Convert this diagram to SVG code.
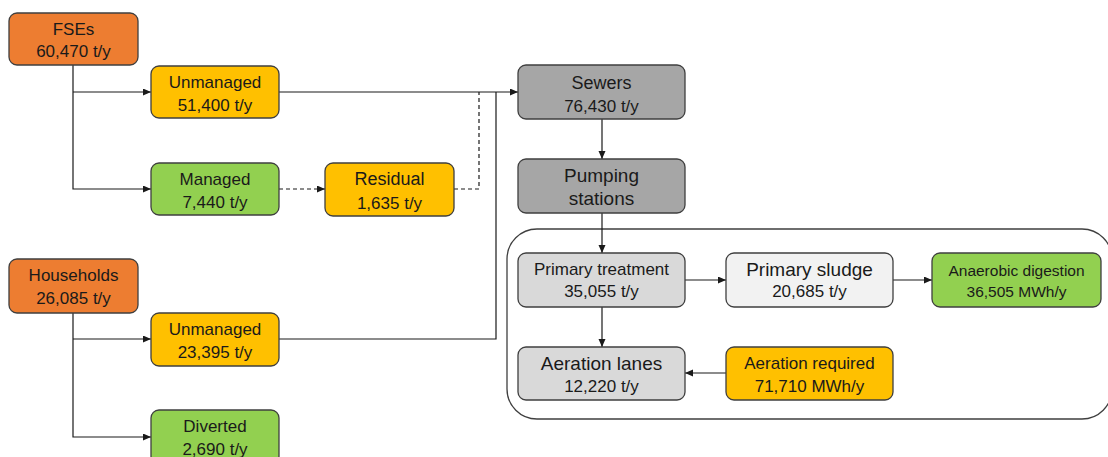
<svg xmlns="http://www.w3.org/2000/svg" width="1108" height="457" viewBox="0 0 1108 457">
  <style>
    .box { stroke: #3f3f3f; stroke-width: 1.3; }
    .orange { fill: #ED7D31; }
    .yellow { fill: #FFC000; }
    .green { fill: #92D050; }
    .gray { fill: #A6A6A6; }
    .light { fill: #D9D9D9; }
    .pale { fill: #F2F2F2; }
    text { font-family: "Liberation Sans", Arial, sans-serif; font-size: 17px; fill: #1a1a1a; text-anchor: middle; }
    .big { font-size: 19px; }
    .mid { font-size: 18px; }
    .small { font-size: 15.5px; }
    .link { fill: none; stroke: #1a1a1a; stroke-width: 1.2; }
    .dash { stroke-dasharray: 4 3; }
  </style>
  <defs>
    <marker id="arrow" markerUnits="userSpaceOnUse" markerWidth="8" markerHeight="8" refX="8" refY="3.5" orient="auto">
      <path d="M0,0 L8,3.5 L0,7 z" fill="#1a1a1a"/>
    </marker>
  </defs>

  <!-- treatment plant enclosure, running off the right edge -->
  <rect id="treatment-plant" x="507" y="229" width="605" height="190" rx="30" fill="none" stroke="#3f3f3f" stroke-width="1.3"/>

  <g id="connectors">
    <path class="link" d="M73 65 V189 H151" marker-end="url(#arrow)"/>
    <path class="link" d="M73 92 H151" marker-end="url(#arrow)"/>
    <path class="link dash" d="M279 189 H325" marker-end="url(#arrow)"/>
    <path class="link dash" d="M454 189 H479 V92"/>
    <path class="link" d="M279 92 H518" marker-end="url(#arrow)"/>
    <path class="link" d="M73 313 V437 H151" marker-end="url(#arrow)"/>
    <path class="link" d="M73 339 H151" marker-end="url(#arrow)"/>
    <path class="link" d="M279 339 H496 V92"/>
    <path class="link" d="M602 119 V159" marker-end="url(#arrow)"/>
    <path class="link" d="M602 213 V253" marker-end="url(#arrow)"/>
    <path class="link" d="M685 280 H726" marker-end="url(#arrow)"/>
    <path class="link" d="M893 280 H932" marker-end="url(#arrow)"/>
    <path class="link" d="M602 307 V347" marker-end="url(#arrow)"/>
    <path class="link" d="M726 373 H685" marker-end="url(#arrow)"/>
  </g>

  <g id="fses">
    <rect class="box orange" x="9" y="13" width="129" height="52" rx="8"/>
    <text x="73.5" y="34.5">FSEs</text>
    <text x="73.5" y="57">60,470 t/y</text>
  </g>
  <g id="fse-unmanaged">
    <rect class="box yellow" x="151" y="66" width="128" height="52" rx="8"/>
    <text x="215" y="87.5">Unmanaged</text>
    <text x="215" y="111">51,400 t/y</text>
  </g>
  <g id="fse-managed">
    <rect class="box green" x="151" y="163" width="128" height="52" rx="8"/>
    <text x="215" y="184.5">Managed</text>
    <text x="215" y="208">7,440 t/y</text>
  </g>
  <g id="residual">
    <rect class="box yellow" x="325" y="163" width="129" height="53" rx="8"/>
    <text class="mid" x="389.5" y="185">Residual</text>
    <text x="389.5" y="208.5">1,635 t/y</text>
  </g>
  <g id="households">
    <rect class="box orange" x="9" y="259" width="129" height="54" rx="8"/>
    <text x="73.5" y="281">Households</text>
    <text x="73.5" y="304">26,085 t/y</text>
  </g>
  <g id="hh-unmanaged">
    <rect class="box yellow" x="151" y="313" width="128" height="53" rx="8"/>
    <text x="215" y="334.5">Unmanaged</text>
    <text x="215" y="358">23,395 t/y</text>
  </g>
  <g id="diverted">
    <rect class="box green" x="151" y="410" width="128" height="54" rx="8"/>
    <text x="215" y="432">Diverted</text>
    <text x="215" y="455">2,690 t/y</text>
  </g>
  <g id="sewers">
    <rect class="box gray" x="518" y="65" width="167" height="54" rx="8"/>
    <text class="mid" x="601.5" y="88.5">Sewers</text>
    <text x="601.5" y="111.5">76,430 t/y</text>
  </g>
  <g id="pumping-stations">
    <rect class="box gray" x="518" y="159" width="167" height="54" rx="8"/>
    <text class="big" x="601.5" y="182">Pumping</text>
    <text class="big" x="601.5" y="205">stations</text>
  </g>
  <g id="primary-treatment">
    <rect class="box light" x="518" y="253" width="167" height="54" rx="8"/>
    <text x="601.5" y="275">Primary treatment</text>
    <text x="601.5" y="297">35,055 t/y</text>
  </g>
  <g id="primary-sludge">
    <rect class="box pale" x="726" y="253" width="167" height="54" rx="8"/>
    <text class="big" x="809.5" y="275.5">Primary sludge</text>
    <text x="809.5" y="297">20,685 t/y</text>
  </g>
  <g id="anaerobic-digestion">
    <rect class="box green" x="932" y="253" width="169" height="54" rx="8"/>
    <text class="small" x="1016.5" y="276">Anaerobic digestion</text>
    <text class="small" x="1016.5" y="297">36,505 MWh/y</text>
  </g>
  <g id="aeration-lanes">
    <rect class="box light" x="518" y="347" width="167" height="53" rx="8"/>
    <text class="big" x="601.5" y="369.5">Aeration lanes</text>
    <text x="601.5" y="391.5">12,220 t/y</text>
  </g>
  <g id="aeration-required">
    <rect class="box yellow" x="726" y="347" width="167" height="53" rx="8"/>
    <text x="809.5" y="369">Aeration required</text>
    <text x="809.5" y="391.5">71,710 MWh/y</text>
  </g>
</svg>
